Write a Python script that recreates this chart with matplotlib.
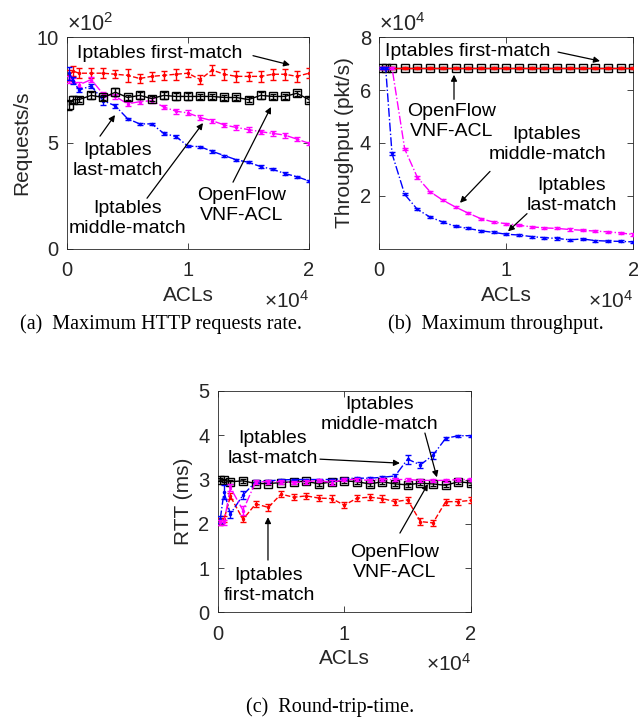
import matplotlib
matplotlib.use("Agg")
import matplotlib.pyplot as plt

plt.rcParams['font.family'] = ['Liberation Sans', 'DejaVu Sans']
plt.rcParams['mathtext.fontset'] = 'custom'
plt.rcParams['mathtext.rm'] = 'Liberation Sans'
plt.rcParams['mathtext.it'] = 'Liberation Sans'

# ---------------- data ----------------
acls = [200, 500, 1000, 2000, 3000, 4000, 5000, 6000, 7000, 8000, 9000, 10000,
        11000, 12000, 13000, 14000, 15000, 16000, 17000, 18000, 19000, 20000]
x_ticks = [0, 10000, 20000]
x_ticklabels = ['0', '1', '2']

# (a) HTTP requests/s (x10^2)
req_first = [8.2, 8.4, 8.3, 8.3, 8.3, 8.25, 8.2, 8.05, 8.15, 8.2, 8.25, 8.3,
             8.0, 8.45, 8.25, 8.15, 8.15, 8.15, 8.25, 8.25, 8.15, 8.3]
req_first_err = [0.25, 0.25, 0.25, 0.25, 0.25, 0.2, 0.3, 0.2, 0.2, 0.2, 0.25, 0.2,
                 0.2, 0.25, 0.25, 0.25, 0.2, 0.25, 0.25, 0.25, 0.25, 0.25]
req_ovs = [6.8, 7.05, 7.05, 7.25, 7.15, 7.4, 7.15, 7.25, 7.1, 7.25, 7.2, 7.2,
           7.2, 7.2, 7.15, 7.15, 7.05, 7.25, 7.2, 7.2, 7.35, 7.05]
req_ovs_err = [0.25, 0.15, 0.1, 0.15, 0.1, 0.2, 0.1, 0.15, 0.1, 0.15, 0.15, 0.15,
               0.12, 0.12, 0.1, 0.1, 0.1, 0.15, 0.12, 0.12, 0.12, 0.1]
req_last = [8.3, 7.95, 7.5, 7.7, 7.0, 6.75, 6.15, 5.9, 5.9, 5.45, 5.3, 4.85,
            4.82, 4.6, 4.4, 4.2, 4.08, 3.88, 3.75, 3.55, 3.4, 3.2]
req_last_err = [0.3, 0.15, 0.1, 0.1, 0.2, 0.1, 0.05, 0.05, 0.05, 0.08, 0.08, 0.05,
                0.05, 0.08, 0.05, 0.05, 0.05, 0.05, 0.05, 0.05, 0.05, 0.05]
req_middle = [8.0, 7.95, 7.75, 8.0, 7.3, 7.2, 6.85, 6.95, 7.0, 6.7, 6.5, 6.42,
              6.2, 6.05, 5.85, 5.73, 5.63, 5.53, 5.45, 5.37, 5.18, 4.98]
req_middle_err = [0.15, 0.12, 0.12, 0.12, 0.12, 0.12, 0.1, 0.12, 0.12, 0.1, 0.12, 0.12,
                  0.1, 0.1, 0.08, 0.1, 0.1, 0.1, 0.1, 0.12, 0.1, 0.08]

# (b) throughput (x10^4 pkt/s)
thr_first = [6.85] * 22
thr_ovs = [6.85] * 22
thr_last = [6.85, 6.85, 3.6, 2.05, 1.48, 1.19, 1.0, 0.84, 0.76, 0.67, 0.61, 0.54,
            0.51, 0.45, 0.41, 0.38, 0.33, 0.36, 0.30, 0.28, 0.27, 0.25]
thr_middle = [6.85, 6.85, 6.85, 3.77, 2.69, 2.15, 1.83, 1.57, 1.34, 1.13, 1.0, 0.94,
              0.88, 0.82, 0.78, 0.76, 0.72, 0.69, 0.66, 0.63, 0.59, 0.53]
thr_err = [0.04] * 22

# (c) RTT (ms)
rtt_first = [2.05, 2.1, 2.62, 2.1, 2.45, 2.37, 2.67, 2.6, 2.63, 2.58, 2.57, 2.42,
             2.58, 2.6, 2.57, 2.5, 2.54, 2.05, 2.02, 2.5, 2.5, 2.53]
rtt_first_err = [0.07] * 22
rtt_ovs = [3.0, 2.98, 2.95, 2.97, 2.91, 2.91, 2.93, 2.95, 2.96, 2.9, 2.95, 2.97,
           2.95, 2.9, 2.95, 2.9, 2.88, 2.92, 2.9, 2.87, 2.95, 2.92]
rtt_ovs_err = [0.04] * 22
rtt_last = [2.1, 2.72, 2.22, 2.65, 2.95, 2.97, 2.99, 3.0, 3.0, 3.0, 3.0, 3.02,
            3.03, 3.03, 3.05, 3.08, 3.46, 3.33, 3.55, 3.93, 3.99, 3.99]
rtt_last_err = [0.08, 0.15, 0.08, 0.08, 0.03, 0.03, 0.02, 0.02, 0.02, 0.02, 0.02, 0.02,
                0.02, 0.02, 0.03, 0.05, 0.1, 0.07, 0.08, 0.04, 0.02, 0.02]
rtt_middle = [2.03, 2.03, 2.82, 2.3, 2.95, 2.95, 2.95, 2.93, 2.95, 2.98, 2.93, 3.0,
              3.0, 2.98, 3.0, 3.0, 3.0, 2.98, 2.98, 2.98, 3.0, 3.0]
rtt_middle_err = [0.05, 0.05, 0.08, 0.1, 0.04, 0.04, 0.04, 0.04, 0.04, 0.04, 0.05, 0.04,
                  0.04, 0.04, 0.04, 0.04, 0.04, 0.04, 0.04, 0.04, 0.04, 0.04]

# ---------------- figure ----------------
W, H = 638, 719
fig = plt.figure(figsize=(W / 100, H / 100), dpi=100)

def rect(l, r, t, b):
    return [l / W, (H - b) / H, (r - l) / W, (b - t) / H]

ax_a = fig.add_axes(rect(67, 309, 37.3, 248.5))
ax_b = fig.add_axes(rect(379.3, 633.3, 37.3, 248.5))
ax_c = fig.add_axes(rect(217.7, 471, 391, 612.3))

FS = 14
TFS = 14.5
LFS = 15
TXT = '#262626'

def style(ax, ylim, yticks, ylabel):
    ax.set_xlim(0, 20000)
    ax.set_ylim(*ylim)
    ax.set_xticks(x_ticks)
    ax.set_xticklabels(x_ticklabels)
    ax.set_yticks(yticks)
    ax.set_yticklabels([f'{t:g}' for t in yticks])
    ax.tick_params(direction='in', top=True, right=True, length=4, width=0.6,
                   labelsize=TFS, colors=TXT)
    ax.tick_params(axis='x', pad=9)
    ax.tick_params(axis='y', pad=6)
    for s in ax.spines.values():
        s.set_color(TXT)
        s.set_linewidth(0.6)
    ax.set_xlabel('ACLs', fontsize=LFS, color=TXT, labelpad=4)
    ax.set_ylabel(ylabel, fontsize=LFS, color=TXT, labelpad=4)
    ax.annotate(r'$\times 10^{4}$', xy=(1.0, 0.0), xycoords='axes fraction',
                xytext=(0, -41), textcoords='offset pixels', ha='right',
                va='top', fontsize=15, color=TXT)

def series(ax, y, err, color, ls, marker, ms, mfc, z):
    ax.errorbar(acls, y, yerr=err, color=color, ls=ls, lw=1.0, marker=marker,
                ms=ms, mfc=mfc, mec=color, mew=1.0, capsize=2.5, elinewidth=1.0,
                capthick=1.0, zorder=z)

def note(ax, text, xy_text, xy_tail, xy_head):
    ax.text(xy_text[0], xy_text[1], text, ha='center', va='center', fontsize=FS,
            color='black', linespacing=1.25, zorder=10)
    ax.annotate('', xy=xy_head, xytext=xy_tail,
                arrowprops=dict(arrowstyle='-|>', color='black', lw=0.9,
                                mutation_scale=9, shrinkA=0, shrinkB=0), zorder=10)

# (a)
series(ax_a, req_first, req_first_err, 'red', '--', '.', 3, 'red', 3)
series(ax_a, req_middle, req_middle_err, 'magenta', '-.', '.', 3, 'magenta', 4)
series(ax_a, req_last, req_last_err, 'blue', '-.', '.', 3, 'blue', 5)
series(ax_a, req_ovs, req_ovs_err, 'black', '-', 's', 5.5, 'none', 6)
style(ax_a, (0, 10), [0, 5, 10], 'Requests/s')
ax_a.text(0.0, 1.005, r'$\times 10^{2}$', transform=ax_a.transAxes, ha='left',
          va='bottom', fontsize=15.5, color=TXT)
note(ax_a, 'Iptables first-match', (7686, 9.22), (15372, 9.13), (18430, 8.69))
note(ax_a, 'Iptables\nlast-match', (4215, 4.16), (2727, 5.32), (3967, 6.32))
note(ax_a, 'Iptables\nmiddle-match', (5041, 1.41), (6612, 2.38), (11240, 5.94))
note(ax_a, 'OpenFlow\nVNF-ACL', (14463, 2.05), (13719, 3.14), (16860, 6.70))

# (b)
series(ax_b, thr_ovs, thr_err, 'black', '-', 's', 5.5, 'none', 3)
series(ax_b, thr_first, thr_err, 'red', '-', '.', 3, 'red', 4)
series(ax_b, thr_middle, thr_err, 'magenta', '-.', '.', 3, 'magenta', 5)
series(ax_b, thr_last, thr_err, 'blue', '-.', '.', 3, 'blue', 6)
style(ax_b, (0, 8), [2, 4, 6, 8], 'Throughput (pkt/s)')
ax_b.text(0.0, 1.005, r'$\times 10^{4}$', transform=ax_b.transAxes, ha='left',
          va='bottom', fontsize=15.5, color=TXT)
note(ax_b, 'Iptables first-match', (6984, 7.47), (14071, 7.44), (17378, 7.10))
note(ax_b, 'OpenFlow\nVNF-ACL', (5724, 4.81), (5882, 5.65), (5882, 6.58))
note(ax_b, 'Iptables\nmiddle-match', (13205, 3.93), (8717, 2.92), (6354, 1.73))
note(ax_b, 'Iptables\nlast-match', (15173, 2.01), (11630, 1.32), (10134, 0.65))

# (c)
series(ax_c, rtt_first, rtt_first_err, 'red', '--', '.', 3, 'red', 3)
series(ax_c, rtt_ovs, rtt_ovs_err, 'black', '-', 's', 5.5, 'none', 4)
series(ax_c, rtt_last, rtt_last_err, 'blue', '-.', '.', 3, 'blue', 5)
series(ax_c, rtt_middle, rtt_middle_err, 'magenta', '-.', '.', 3, 'magenta', 6)
style(ax_c, (0, 5), [0, 1, 2, 3, 4, 5], 'RTT (ms)')
note(ax_c, 'Iptables\nlast-match', (4365, 3.70), (8074, 3.46), (14388, 3.37))
note(ax_c, 'Iptables\nmiddle-match', (12810, 4.47), (16361, 4.05), (17308, 3.05))
note(ax_c, 'OpenFlow\nVNF-ACL', (13994, 1.12), (14388, 1.79), (16598, 2.90))
note(ax_c, 'Iptables\nfirst-match', (4049, 0.60), (3970, 1.18), (3970, 2.15))

# captions
CAP = dict(fontsize=14.5, family=['Liberation Serif', 'DejaVu Serif'],
           ha='center', va='center', color='black')
fig.text(161 / W, 1 - 324 / H, '(a)  Maximum HTTP requests rate.', **CAP)
fig.text(496 / W, 1 - 324 / H, '(b)  Maximum throughput.', **CAP)
fig.text(330 / W, 1 - 707 / H, '(c)  Round-trip-time.', **CAP)

fig.savefig('out.png', dpi=100)
